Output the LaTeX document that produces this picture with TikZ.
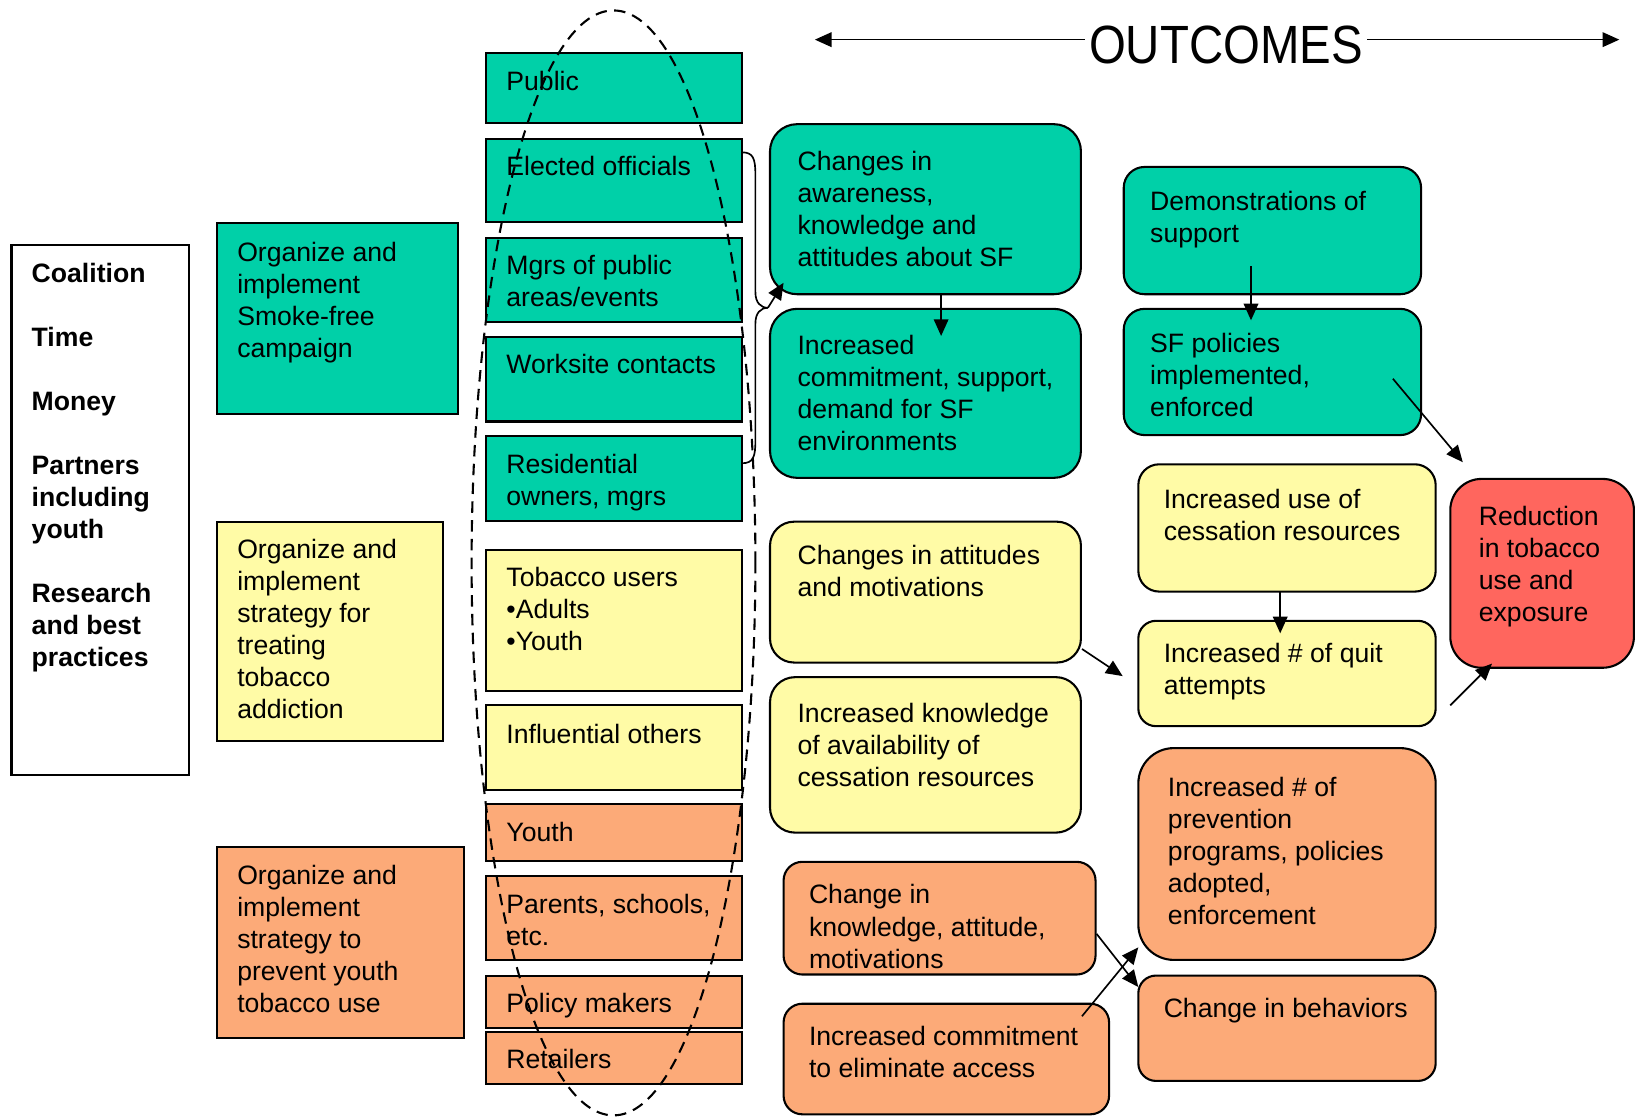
\documentclass[tikz,border=0pt]{standalone}
\usepackage{fontspec}
\setmainfont{Liberation Sans}
\usepackage{graphicx}
\usetikzlibrary{arrows.meta}
\definecolor{tealc}{RGB}{0,208,168}
\definecolor{yelc}{RGB}{255,251,166}
\definecolor{orc}{RGB}{252,170,120}
\definecolor{redc}{RGB}{255,102,94}
\newcommand\fs{\fontsize{12.75pt}{15.35pt}\selectfont}
\tikzset{
  box/.style={draw=black, line width=1pt, inner sep=0pt, outer sep=0pt, anchor=north west},
  txt/.style={anchor=north west, inner sep=0pt, align=left, font=\fs},
  arr/.style={line width=0.8pt, -{Triangle[length=8pt,width=7pt]}},
  brace/.style={line width=0.8pt},
  ell/.style={line width=1pt, dash pattern=on 5.5pt off 3.5pt},
}
\newcommand\bx[6]{\node[box,#1,minimum width={0.5pt*(#4-#2)},minimum height={0.5pt*(#5-#3)}] (#6) at (#2,#3) {};}
\newcommand\tx[4]{\node[txt] (#1) at (#2,{#3-12.5}) {\strut #4};}
\begin{document}
\begin{tikzpicture}[x=0.5pt,y=-0.5pt]
\useasboundingbox (0,0) rectangle (1568,1070);
% inputs
\bx{fill=white}{11}{235}{181}{743}{inbox}
\node[txt, font=\fs\bfseries] (intext) at (30,{261-12.5}) {\strut Coalition\\[15.35pt] Time\\[15.35pt] Money\\[15.35pt] Partners\\ including\\ youth\\[15.35pt] Research\\ and best\\ practices};
% activities
\bx{fill=tealc}{208}{214}{439}{397}{org1}
\tx{org1t}{227}{241}{Organize and\\implement\\Smoke-free\\campaign}
\bx{fill=yelc}{208}{500}{425}{710}{org2}
\tx{org2t}{227}{526}{Organize and\\implement\\strategy for\\treating\\tobacco\\addiction}
\bx{fill=orc}{208}{812}{445}{995}{org3}
\tx{org3t}{227}{838}{Organize and\\implement\\strategy to\\prevent youth\\tobacco use}
% targets
\bx{fill=tealc}{466}{51}{711}{118}{public}
\tx{publict}{485}{77}{Public}
\bx{fill=tealc}{466}{133}{711}{213}{elected}
\tx{electedt}{485}{159}{Elected officials}
\bx{fill=tealc}{466}{228}{711}{309}{mgrs}
\tx{mgrst}{485}{254}{Mgrs of public\\areas/events}
\bx{fill=tealc}{466}{323}{711}{404}{worksite}
\tx{worksitet}{485}{349}{Worksite contacts}
\bx{fill=tealc}{466}{418}{711}{499}{resid}
\tx{residt}{485}{444}{Residential\\owners, mgrs}
\bx{fill=yelc}{466}{527}{711}{662}{tobacco}
\tx{tobaccot}{485}{553}{Tobacco users\\•Adults\\•Youth}
\bx{fill=yelc}{466}{676}{711}{757}{influ}
\tx{influt}{485}{703}{Influential others}
\bx{fill=orc}{466}{771}{711}{825}{youth}
\tx{youtht}{485}{797}{Youth}
\bx{fill=orc}{466}{840}{711}{920}{parents}
\tx{parentst}{485}{866}{Parents, schools,\\etc.}
\bx{fill=orc}{466}{935}{711}{985}{policy}
\tx{policyt}{485}{961}{Policy makers}
\bx{fill=orc}{466}{989}{711}{1039}{retail}
\tx{retailt}{485}{1015}{Retailers}
% dashed ellipse
\draw[ell] (588,539.5) ellipse [x radius=68pt, y radius=264.75pt];
% outcomes
\bx{fill=tealc,rounded corners=13pt}{738}{119}{1036}{282}{aware}
\tx{awaret}{764}{154}{Changes in\\awareness,\\knowledge and\\attitudes about SF}
\bx{fill=tealc,rounded corners=13pt}{738}{296}{1036}{458}{commit}
\tx{committ}{764}{330}{Increased\\commitment, support,\\demand for SF\\environments}
\bx{fill=tealc,rounded corners=10pt}{1077}{160}{1362}{282}{demo}
\tx{demot}{1102}{192}{Demonstrations of\\support}
\bx{fill=tealc,rounded corners=10pt}{1077}{296}{1362}{417}{sfpol}
\tx{sfpolt}{1102}{328}{SF policies\\implemented,\\enforced}
\bx{fill=yelc,rounded corners=11.5pt}{738}{500}{1036}{635}{attit}
\tx{attitt}{764}{532}{Changes in attitudes\\and motivations}
\bx{fill=yelc,rounded corners=12pt}{738}{649}{1036}{798}{know}
\tx{knowt}{764}{683}{Increased knowledge\\of availability of\\cessation resources}
\bx{fill=yelc,rounded corners=10pt}{1091}{445}{1376}{567}{use}
\tx{uset}{1115}{478}{Increased use of\\cessation resources}
\bx{fill=yelc,rounded corners=8.5pt}{1091}{595}{1376}{696}{quit}
\tx{quitt}{1115}{626}{Increased \# of quit\\attempts}
\bx{fill=redc,rounded corners=15pt}{1390}{459}{1566}{640}{red}
\tx{redt}{1417}{494}{Reduction\\in tobacco\\use and\\exposure}
\bx{fill=orc,rounded corners=9pt}{751}{826}{1050}{934}{ckn}
\tx{cknt}{775}{857}{Change in\\knowledge, attitude,\\motivations}
\bx{fill=orc,rounded corners=9pt}{751}{962}{1063}{1068}{elim}
\tx{elimt}{775}{993}{Increased commitment\\to eliminate access}
\bx{fill=orc,rounded corners=17pt}{1091}{717}{1376}{920}{prev}
\tx{prevt}{1119}{754}{Increased \# of\\prevention\\programs, policies\\adopted,\\enforcement}
\bx{fill=orc,rounded corners=8.5pt}{1091}{935}{1376}{1036}{behav}
\tx{behavt}{1115}{966}{Change in behaviors}
% header
\node[inner sep=2pt, font=\fontsize{25.8pt}{30pt}\selectfont] (outc) at (1175,43) {\scalebox{0.88}[1]{OUTCOMES}};
\coordinate (oL) at (781,38);
\coordinate (oR) at (1552,38);
\draw[arr] (outc.west |- oL) -- (oL);
\draw[arr] (outc.east |- oR) -- (oR);
% brace
\coordinate (bt) at (711,146);
\coordinate (bb) at (711,444);
\coordinate (btip) at (736,295);
\coordinate (barr) at (751,271);
\draw[brace] (bt) .. controls (722,146) and (724,152) .. (724,168) -- (724,280) .. controls (724,290) and (729,295) .. (btip);
\draw[brace] (bb) .. controls (722,444) and (724,438) .. (724,422) -- (724,310) .. controls (724,300) and (729,295) .. (btip);
\draw[arr] (btip) -- (barr);
% arrows
\coordinate (a1) at (902,322);
\draw[arr] (aware.south -| a1) -- (a1);
\coordinate (a2s) at (1199,255);
\coordinate (a2e) at (1199,307);
\draw[arr] (a2s) -- (a2e);
\coordinate (a3s) at (1335,363);
\coordinate (a3e) at (1402,443);
\draw[arr] (a3s) -- (a3e);
\coordinate (a4) at (1227,607);
\draw[arr] (use.south -| a4) -- (a4);
\coordinate (a5s) at (1037,622);
\coordinate (a5e) at (1076,648);
\draw[arr] (a5s) -- (a5e);
\coordinate (a6s) at (1390,676);
\coordinate (a6e) at (1430,636);
\draw[arr] (a6s) -- (a6e);
\coordinate (a7s) at (1051,895);
\coordinate (a7e) at (1091,946);
\draw[arr] (a7s) -- (a7e);
\coordinate (a8s) at (1037,974);
\coordinate (a8e) at (1091,908);
\draw[arr] (a8s) -- (a8e);
\end{tikzpicture}
\end{document}
